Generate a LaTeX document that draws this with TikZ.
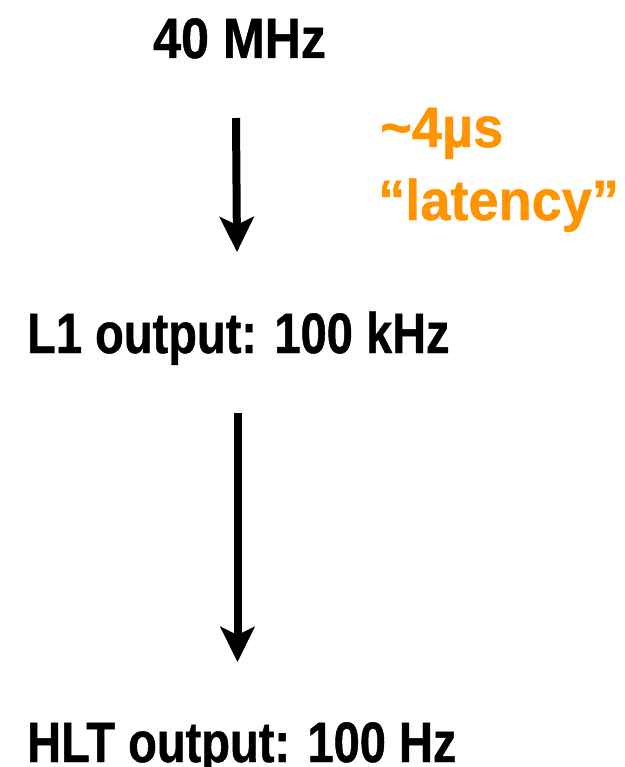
\documentclass[tikz,border=0pt]{standalone}
\usepackage{fontspec}
\setmainfont{Liberation Sans}[FakeStretch=0.825,BoldFeatures={FakeBold=0.8}]
\newfontfamily\widefont{Liberation Sans}[FakeStretch=0.88,BoldFeatures={FakeBold=0.8}]
\newfontfamily\orangefont{Liberation Sans}[FakeStretch=0.95,BoldFeatures={FakeBold=0.8}]
\usetikzlibrary{arrows.meta}
\definecolor{appleorange}{RGB}{255,147,0}
\begin{document}
\begin{tikzpicture}[x=1pt,y=-1pt,
  lbl/.style={anchor=base west,inner sep=0pt,font=\fontsize{57}{60}\selectfont\bfseries},
  orangelbl/.style={anchor=base west,inner sep=0pt,font=\orangefont\fontsize{57}{60}\selectfont\bfseries,text=appleorange},
  flow/.style={line width=8pt,-{Stealth[length=35pt,width=34pt,inset=8pt]}}]
\useasboundingbox (0,0) rectangle (624,767);
\node[lbl,font=\widefont\fontsize{57}{60}\selectfont\bfseries] (mhz) at (153,58) {40 MHz};
\node[orangelbl] (lat1) at (380,147) {\textasciitilde4µs};
\node[orangelbl] (lat2) at (378,220) {“latency”};
\node[lbl] (l1) at (27,353) {L1 output: 100 kHz};
\node[lbl] (hlt) at (27,762) {HLT output: 100 Hz};
\coordinate (a1s) at (236,118);
\coordinate (a1e) at (237,252);
\coordinate (a2s) at (237.5,413);
\coordinate (a2e) at (237.5,662);
\draw[flow] (a1s) -- (a1e);
\draw[flow] (a2s) -- (a2e);
\end{tikzpicture}
\end{document}
